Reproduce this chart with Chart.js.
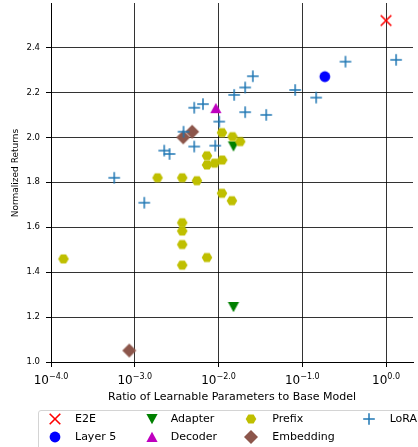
<!DOCTYPE html>
<html>
<head>
<meta charset="utf-8">
<script src="https://cdn.jsdelivr.net/npm/chart.js@4.4.1/dist/chart.umd.min.js"></script>
<style>
    html, body { margin: 0; padding: 0; background: #fff; overflow: hidden; }
    #wrap { position: relative; width: 418px; height: 447px; overflow: hidden; }
    #chart { position: absolute; left: 0; top: 0; }
    #legendBox {
        position: absolute; left: 38px; top: 410px; width: 420px; height: 42px;
        border: 1px solid #d4d4d4; border-radius: 3px; box-sizing: border-box; background: #fff;
    }
    .lg-text {
        position: absolute; height: 16px; line-height: 16px; white-space: nowrap;
        font-family: "DejaVu Sans", sans-serif; font-size: 11px; color: #000;
    }
    .lg-mark { position: absolute; width: 16px; height: 16px; }
</style>
</head>
<body>
<div id="wrap">
    <canvas id="chart" width="418" height="447"></canvas>
    <div id="legendBox"></div>
</div>
<script>
    // --- data ---
    const seriesNames = ['E2E', 'Layer 5', 'Adapter', 'Decoder', 'Prefix', 'Embedding', 'LoRA'];

    const e2eX = [1.0];
    const e2eY = [2.52];

    const layer5X = [0.186];
    const layer5Y = [2.27];

    const adapterX = [0.0151, 0.0151];
    const adapterY = [1.96, 1.245];

    const decoderX = [0.0093];
    const decoderY = [2.13];

    const prefixX = [0.000141, 0.00187, 0.00369, 0.00552, 0.00369, 0.00369, 0.00369, 0.00369, 0.00728,
                     0.00728, 0.00728, 0.00896, 0.01107, 0.0110, 0.0147, 0.01815, 0.0110, 0.01445];
    const prefixY = [1.459, 1.820, 1.820, 1.807, 1.620, 1.583, 1.523, 1.431, 1.465,
                     1.918, 1.877, 1.885, 1.899, 2.021, 2.003, 1.981, 1.751, 1.718];

    const embeddingX = [0.00379, 0.00485, 0.00086];
    const embeddingY = [2.000, 2.025, 1.051];

    const loraX = [0.000569, 0.0013, 0.00225, 0.0026, 0.00382, 0.00513, 0.00513, 0.00652, 0.00914, 0.0102,
                   0.01538, 0.0208, 0.0257, 0.0208, 0.0371, 0.0822, 0.1466, 0.328, 1.32];
    const loraY = [1.820, 1.709, 1.941, 1.926, 2.025, 1.959, 2.132, 2.148, 1.963, 2.070,
                   2.189, 2.222, 2.272, 2.112, 2.100, 2.211, 2.177, 2.337, 2.345];

    const xTickValues = [1e-4, 1e-3, 1e-2, 1e-1, 1];
    const xTickExponents = ['\u22124.0', '\u22123.0', '\u22122.0', '\u22121.0', '0.0'];
    const yTickValues = [1.0, 1.2, 1.4, 1.6, 1.8, 2.0, 2.2, 2.4];

    const xTitle = 'Ratio of Learnable Parameters to Base Model';
    const yTitle = 'Normalized Returns';

    const FONT = '"DejaVu Sans", sans-serif';

    // marker images (matplotlib style shapes)
    function makeMarker(kind, color) {
        const c = document.createElement('canvas');
        c.width = 16; c.height = 16;
        const g = c.getContext('2d');
        const m = 8;
        g.fillStyle = color; g.strokeStyle = color; g.lineWidth = 1;
        g.beginPath();
        if (kind === 'x') {
            g.lineWidth = 1.6;
            g.moveTo(m - 5.3, m - 5.3); g.lineTo(m + 5.3, m + 5.3);
            g.moveTo(m + 5.3, m - 5.3); g.lineTo(m - 5.3, m + 5.3);
            g.stroke();
        } else if (kind === 'plus') {
            g.lineWidth = 1.5;
            g.moveTo(m - 5.8, m); g.lineTo(m + 5.8, m);
            g.moveTo(m, m - 5.8); g.lineTo(m, m + 5.8);
            g.stroke();
        } else if (kind === 'circle') {
            g.arc(m, m, 5.4, 0, Math.PI * 2);
            g.fill();
        } else if (kind === 'tri_up') {
            g.moveTo(m, m - 5.2); g.lineTo(m + 5.6, m + 5.0); g.lineTo(m - 5.6, m + 5.0);
            g.closePath(); g.fill();
        } else if (kind === 'tri_down') {
            g.moveTo(m, m + 5.2); g.lineTo(m + 5.6, m - 5.0); g.lineTo(m - 5.6, m - 5.0);
            g.closePath(); g.fill();
        } else if (kind === 'hex') {
            for (let k = 0; k < 6; k++) {
                const a = k * Math.PI / 3;
                const px = m + 5.3 * Math.cos(a), py = m + 5.3 * Math.sin(a);
                if (k === 0) g.moveTo(px, py); else g.lineTo(px, py);
            }
            g.closePath(); g.fill();
        } else if (kind === 'diamond') {
            g.moveTo(m, m - 7); g.lineTo(m + 7, m); g.lineTo(m, m + 7); g.lineTo(m - 7, m);
            g.closePath(); g.fill();
        }
        return c;
    }

    const seriesX = [e2eX, layer5X, adapterX, decoderX, prefixX, embeddingX, loraX];
    const seriesY = [e2eY, layer5Y, adapterY, decoderY, prefixY, embeddingY, loraY];
    const seriesColors = ['#ff0000', '#0000ff', '#008000', '#bf00bf', '#bfbf00', '#8c564b', '#1f77b4'];
    const seriesKinds = ['x', 'circle', 'tri_down', 'tri_up', 'hex', 'diamond', 'plus'];
    const markers = seriesKinds.map((k, i) => makeMarker(k, seriesColors[i]));

    const datasets = seriesNames.map((name, i) => ({
        label: name,
        data: seriesX[i].map((x, j) => ({ x: x, y: seriesY[i][j] })),
        pointStyle: markers[i],
        pointRadius: 8,
        clip: 10,
        // later series on top, like matplotlib
        order: seriesNames.length - 1 - i
    }));

    // titles + superscript x tick labels
    const labelsPlugin = {
        id: 'labelsPlugin',
        afterDraw(chart) {
            const ctx = chart.ctx;
            const xs = chart.scales.x;
            ctx.save();
            ctx.fillStyle = '#000';
            ctx.textBaseline = 'alphabetic';
            ctx.textAlign = 'left';
            xTickValues.forEach((v, i) => {
                const px = xs.getPixelForValue(v);
                ctx.font = '12px ' + FONT;
                const wb = ctx.measureText('10').width;
                ctx.font = '8px ' + FONT;
                const ws = ctx.measureText(xTickExponents[i]).width;
                const x0 = px - (wb + ws) / 2;
                ctx.font = '12px ' + FONT;
                ctx.fillText('10', x0, 383.5);
                ctx.font = '8px ' + FONT;
                ctx.fillText(xTickExponents[i], x0 + wb, 378.5);
            });

            ctx.font = '11px ' + FONT;
            ctx.textAlign = 'center';
            ctx.fillText(xTitle, (chart.chartArea.left + chart.chartArea.right) / 2, 399.5);

            ctx.translate(17.6, 173);
            ctx.rotate(-Math.PI / 2);
            ctx.font = '9px ' + FONT;
            ctx.fillText(yTitle, 0, 0);
            ctx.restore();
        }
    };

    const ctx = document.getElementById('chart').getContext('2d');
    const chart = new Chart(ctx, {
        type: 'scatter',
        data: { datasets: datasets },
        options: {
            responsive: false,
            devicePixelRatio: 1,
            animation: false,
            layout: { autoPadding: false, padding: { left: 0, top: 3, right: 5, bottom: 0 } },
            plugins: { legend: { display: false }, tooltip: { enabled: false } },
            scales: {
                x: {
                    type: 'logarithmic',
                    min: 1e-4,
                    max: 2.1,
                    bounds: 'data',
                    afterBuildTicks: (scale) => { scale.ticks = xTickValues.map(v => ({ value: v })); },
                    afterFit: (scale) => {
                        scale.height = 85;
                        scale.paddingLeft = 0; scale.paddingRight = 0;
                    },
                    ticks: { display: false },
                    grid: { color: 'rgba(0,0,0,0.8)', lineWidth: 1, tickLength: 5, tickColor: '#000' },
                    border: { display: true, color: '#000', width: 1 }
                },
                y: {
                    min: 1.0,
                    max: 2.598,
                    bounds: 'data',
                    afterBuildTicks: (scale) => { scale.ticks = yTickValues.map(v => ({ value: v })); },
                    afterFit: (scale) => {
                        scale.width = 51;
                        scale.paddingTop = 0; scale.paddingBottom = 0;
                    },
                    ticks: {
                        padding: 6,
                        color: '#000',
                        font: { family: FONT, size: 8.5 },
                        callback: (v) => Number(v).toFixed(1)
                    },
                    grid: { color: 'rgba(0,0,0,0.8)', lineWidth: 1, tickLength: 5, tickColor: '#000' },
                    border: { display: true, color: '#000', width: 1 }
                }
            }
        },
        plugins: [labelsPlugin]
    });

    // legend laid out like matplotlib ncol=4 (column-major)
    const wrap = document.getElementById('wrap');
    const legendMarkX = [55, 151.7, 251.3, 368.7];
    const legendTextX = [75, 170.7, 272.3, 389.7];
    const legendRowY = [419, 436.7];
    seriesNames.forEach((name, i) => {
        const col = Math.floor(i / 2), row = i % 2;
        const mk = document.createElement('canvas');
        mk.className = 'lg-mark';
        mk.width = 16; mk.height = 16;
        mk.style.left = (legendMarkX[col] - 8) + 'px';
        mk.style.top = (legendRowY[row] - 8) + 'px';
        mk.getContext('2d').drawImage(markers[i], 0, 0);
        wrap.appendChild(mk);

        const t = document.createElement('div');
        t.className = 'lg-text';
        t.textContent = name;
        t.style.left = legendTextX[col] + 'px';
        t.style.top = (legendRowY[row] - 8) + 'px';
        wrap.appendChild(t);
    });
</script>
</body>
</html>
